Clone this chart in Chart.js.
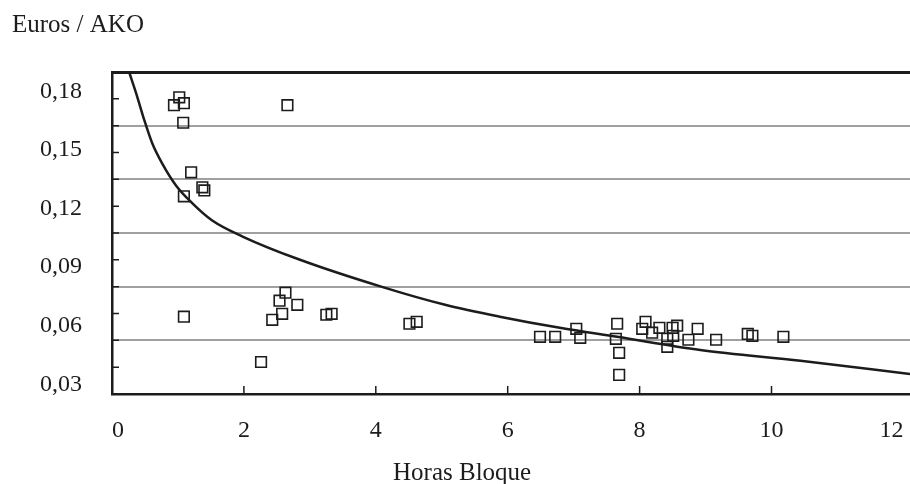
<!DOCTYPE html>
<html>
<head>
<meta charset="utf-8">
<script src="https://cdn.jsdelivr.net/npm/chart.js@4.4.1/dist/chart.umd.min.js"></script>
<style>
  html, body { margin: 0; padding: 0; background: #fff; overflow: hidden; }
</style>
</head>
<body>
<canvas id="chart" width="910" height="484"></canvas>
<script>
// observed routes: block hours vs euros per AKO
const hours = [1.02, 0.94, 1.09, 1.08, 2.66, 1.20, 1.37, 1.40, 1.09, 1.09,
  2.63, 2.54, 2.81, 2.58, 2.43, 2.26, 3.25, 3.33, 4.51, 4.62,
  6.49, 6.72, 7.04, 7.10, 7.66, 7.64, 7.69, 7.69, 8.09, 8.04,
  8.19, 8.30, 8.42, 8.42, 8.50, 8.57, 8.51, 8.74, 8.88, 9.16,
  9.64, 9.71, 10.18];
const eurosPerAko = [0.177, 0.173, 0.174, 0.164, 0.173, 0.1386, 0.1309, 0.1293, 0.1263, 0.0646,
  0.0769, 0.0728, 0.0707, 0.0661, 0.0630, 0.0414, 0.0656, 0.0661, 0.0610, 0.0620,
  0.0543, 0.0543, 0.0584, 0.0538, 0.0610, 0.0533, 0.0461, 0.0348, 0.0620, 0.0584,
  0.0564, 0.0589, 0.0533, 0.0492, 0.0589, 0.0600, 0.0548, 0.0528, 0.0584, 0.0528,
  0.0558, 0.0548, 0.0543];

// fitted curve
const fitHours = [0.26, 0.37, 0.49, 0.61, 0.76, 0.97, 1.22, 1.52, 1.98, 2.84, 4.13, 5.05, 5.88, 6.79, 7.66, 8.92, 10.44, 12.1];
const fitEuros = [0.190, 0.1787, 0.1653, 0.1535, 0.1432, 0.1319, 0.1227, 0.1139, 0.1057, 0.0939, 0.0795, 0.0707, 0.0646, 0.0589, 0.0543, 0.0476, 0.0420, 0.0353];

const xTicks = [0, 2, 4, 6, 8, 10, 12];
const yTicks = [0.03, 0.06, 0.09, 0.12, 0.15, 0.18];
const gridSteps = 12; // minor divisions on the left axis, every 2nd one gets a line

const ink = '#1c1c1c';
const serif = '"Liberation Serif", "Times New Roman", serif';

// short tick marks drawn inward from the axes
const innerTicks = {
  id: 'innerTicks',
  beforeDatasetsDraw(chart) {
    const { ctx, chartArea, scales } = chart;
    ctx.save();
    ctx.strokeStyle = ink;
    ctx.lineWidth = 1.5;
    ctx.beginPath();
    scales.x.ticks.forEach((t) => {
      if (t.value <= 0 || t.value >= 12) return;
      const px = scales.x.getPixelForValue(t.value);
      ctx.moveTo(px, chartArea.bottom);
      ctx.lineTo(px, chartArea.bottom - 8);
    });
    scales.yGrid.ticks.forEach((t) => {
      if (t.value <= 0 || t.value >= gridSteps) return;
      const py = scales.yGrid.getPixelForValue(t.value);
      ctx.moveTo(chartArea.left, py);
      ctx.lineTo(chartArea.left + 7, py);
    });
    ctx.stroke();
    ctx.restore();
  }
};

// axis captions sit where the scan puts them
const captions = {
  id: 'captions',
  afterDraw(chart) {
    const { ctx } = chart;
    ctx.save();
    ctx.fillStyle = ink;
    ctx.font = `25px ${serif}`;
    ctx.textBaseline = 'alphabetic';
    ctx.fillText('Euros / AKO', 12, 32);
    ctx.fillText('Horas Bloque', 393, 480);
    ctx.restore();
  }
};

const points = hours.map((h, i) => ({ x: h, y: eurosPerAko[i] }));
const fit = fitHours.map((h, i) => ({ x: h, y: fitEuros[i] }));

new Chart(document.getElementById('chart'), {
  type: 'scatter',
  data: {
    datasets: [
      {
        label: 'Ajuste',
        data: fit,
        showLine: true,
        borderColor: ink,
        borderWidth: 2.5,
        pointRadius: 0,
        cubicInterpolationMode: 'monotone',
        fill: false
      },
      {
        label: 'Rutas',
        data: points,
        pointStyle: 'rect',
        radius: 7.5,
        borderColor: ink,
        borderWidth: 1.6,
        backgroundColor: 'rgba(0,0,0,0)'
      }
    ]
  },
  options: {
    responsive: false,
    animation: false,
    layout: { autoPadding: false, padding: { top: 72, left: 0, right: 0, bottom: 0 } },
    plugins: {
      legend: { display: false },
      tooltip: { enabled: false }
    },
    scales: {
      x: {
        type: 'linear',
        position: 'bottom',
        min: 0,
        max: 12.1,
        afterBuildTicks: (s) => { s.ticks = xTicks.map((v) => ({ value: v })); },
        afterFit: (s) => {
          s.height = 90;
          s.paddingLeft = 0;
          s.paddingRight = 0;
        },
        grid: { display: false, drawTicks: false },
        border: { color: ink, width: 2.5 },
        ticks: {
          padding: 22,
          align: 'inner',
          color: ink,
          maxRotation: 0,
          autoSkip: false,
          font: { family: serif, size: 24 }
        }
      },
      xTop: {
        type: 'linear',
        position: 'top',
        min: 0,
        max: 12.1,
        afterFit: (s) => {
          s.height = 0;
          s.paddingLeft = 0;
          s.paddingRight = 0;
        },
        grid: { display: false, drawTicks: false },
        ticks: { display: false },
        border: { color: ink, width: 3 }
      },
      y: {
        type: 'linear',
        position: 'left',
        min: 0.025,
        max: 0.19,
        afterBuildTicks: (s) => { s.ticks = yTicks.map((v) => ({ value: v })); },
        afterFit: (s) => { s.width = 112; },
        grid: { display: false, drawTicks: false },
        border: { color: ink, width: 2.5 },
        ticks: {
          padding: 30,
          color: ink,
          font: { family: serif, size: 24 },
          callback: (v) => v.toFixed(2).replace('.', ',')
        }
      },
      yGrid: {
        type: 'linear',
        position: 'left',
        min: 0,
        max: gridSteps,
        afterFit: (s) => { s.width = 0; },
        ticks: { display: false, stepSize: 1 },
        border: { display: false },
        grid: {
          drawTicks: false,
          lineWidth: 2,
          color: (c) => (c.tick && c.tick.value % 2 === 0 && c.tick.value > 0 && c.tick.value < gridSteps)
            ? '#a0a0a0' : 'rgba(0,0,0,0)'
        }
      }
    }
  },
  plugins: [innerTicks, captions]
});
</script>
</body>
</html>
